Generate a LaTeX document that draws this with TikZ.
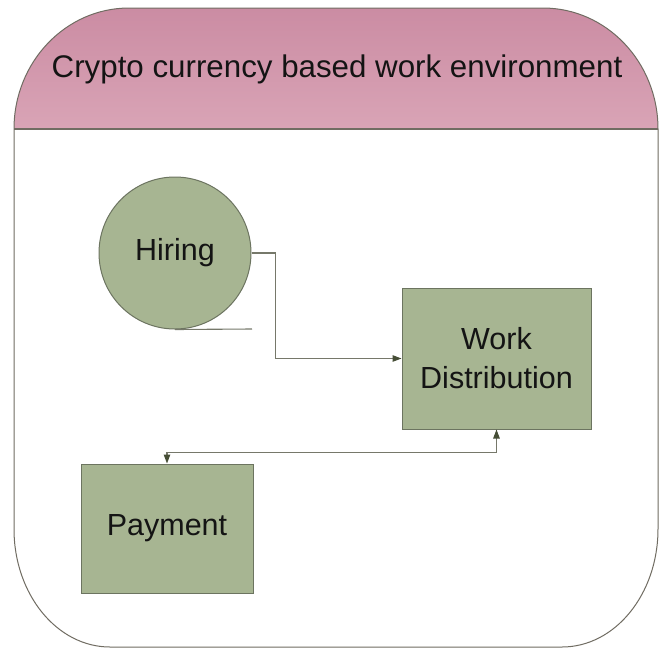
\documentclass[tikz,border=0pt]{standalone}
\usepackage{fontspec}
\setmainfont{Liberation Sans}
\usetikzlibrary{arrows.meta}

\definecolor{bandtop}{RGB}{203,140,163}
\definecolor{bandbot}{RGB}{217,164,182}
\definecolor{sage}{RGB}{167,181,146}
\definecolor{sageedge}{RGB}{108,116,96}
\definecolor{frame}{RGB}{112,108,98}
\definecolor{wire}{RGB}{118,120,106}
\definecolor{tipcol}{RGB}{70,78,54}

\tikzset{
  bigtext/.style={font=\fontsize{30.5}{39}\selectfont, text=black!92},
  titletext/.style={font=\fontsize{31.3}{38}\selectfont, text=black!92},
  stagebox/.style={draw=sageedge, line width=1pt, fill=sage, inner sep=0pt, bigtext, align=center},
  stagecircle/.style={circle, draw=sageedge, line width=1pt, fill=sage, inner sep=0pt, minimum size=152pt, bigtext},
  wireline/.style={draw=wire, line width=1.1pt},
  tip/.style={-{Triangle[length=9pt, width=6.5pt, color=tipcol]}},
  twotip/.style={{Triangle[length=9pt, width=6.5pt, color=tipcol]}-{Triangle[length=9pt, width=6.5pt, color=tipcol]}}
}

\begin{document}
\begin{tikzpicture}[x=1pt, y=-1pt]
  \useasboundingbox (0,0) rectangle (665,649);

  % container: rounded outline with pink header band
  \fill[white]
    (14,529) -- (14,129) .. controls (14,62.2) and (65.5,8) .. (129,8)
    -- (543,8) .. controls (606.5,8) and (658,62.2) .. (658,129)
    -- (658,529) .. controls (658,594.2) and (615,647) .. (562,647)
    -- (110,647) .. controls (57,647) and (14,594.2) .. (14,529) -- cycle;
  \shade[top color=bandtop, bottom color=bandbot]
    (14,129) .. controls (14,62.2) and (65.5,8) .. (129,8)
    -- (543,8) .. controls (606.5,8) and (658,62.2) .. (658,129) -- cycle;
  \draw[frame, line width=1pt]
    (14,529) -- (14,129) .. controls (14,62.2) and (65.5,8) .. (129,8)
    -- (543,8) .. controls (606.5,8) and (658,62.2) .. (658,129)
    -- (658,529) .. controls (658,594.2) and (615,647) .. (562,647)
    -- (110,647) .. controls (57,647) and (14,594.2) .. (14,529) -- cycle;
  \draw[frame, line width=1.4pt] (14,129) -- (658,129);

  \node[titletext, anchor=base] (title) at (337,77) {Crypto currency based work environment};

  % stages
  \node[stagecircle] (hire) at (175,253) {Hiring};
  \node[stagebox, minimum width=189pt, minimum height=141pt] (work) at (496.5,358.5)
    {Work\\Distribution};
  \node[stagebox, minimum width=172pt, minimum height=129pt] (pay) at (167,528.5) {Payment};

  % connectors
  \coordinate (hireTail) at (252,329);
  \draw[wireline] (hire.south) -- (hireTail);
  \draw[wireline, tip] (hire.east) -- ++(24,0) |- (work.west);
  \draw[wireline, twotip] (work.south) -- ++(0,23) -| (pay.north);
\end{tikzpicture}
\end{document}
